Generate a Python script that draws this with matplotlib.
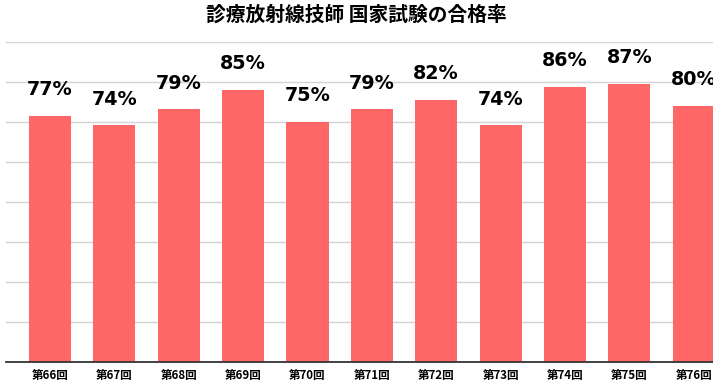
import matplotlib.pyplot as plt
import numpy as np

# データ
kai = ["第66回", "第67回", "第68回", "第69回", "第70回", "第71回",
       "第72回", "第73回", "第74回", "第75回", "第76回"]
goukaku = [77, 74, 79, 85, 75, 79, 82, 74, 86, 87, 80]

fig = plt.figure(figsize=(7.13, 3.81), dpi=100)
ax = fig.add_axes([6 / 713, 1 - 362 / 381, 707 / 713, 320 / 381])

x = np.arange(len(kai))
ax.bar(x, goukaku, width=0.653, color="#ff6666", zorder=2)

# ラベル（右端は元の画像でも切れている）
for xi, v in zip(x, goukaku):
    ax.annotate(f"{v}%", (xi, v), xytext=(0, 11.9), textcoords="offset points",
                ha="center", va="bottom", fontsize=13.8, fontweight="bold",
                family="DejaVu Sans", color="black")

ax.set_xlim(-0.684, 10.30)
ax.set_ylim(0, 100)
ax.set_yticks(np.arange(12.5, 100.1, 12.5))
ax.yaxis.grid(True, color="#d4d4d4", linewidth=1, zorder=0)
ax.tick_params(axis="y", left=False, labelleft=False)
ax.tick_params(axis="x", length=0, pad=5)
ax.set_xticks(x)
ax.set_xticklabels(kai, fontsize=8.3, fontweight="bold",
                   family=["Noto Sans CJK JP", "DejaVu Sans"])

for s in ["top", "right", "left"]:
    ax.spines[s].set_visible(False)
ax.spines["bottom"].set_color("#333333")
ax.spines["bottom"].set_linewidth(1.3)

fig.text(0.5, 1 - 15 / 381, "診療放射線技師 国家試験の合格率", ha="center", va="center",
         fontsize=14.2, fontweight="bold", family=["Noto Sans CJK JP", "DejaVu Sans"])

fig.savefig("out.png", dpi=100)
